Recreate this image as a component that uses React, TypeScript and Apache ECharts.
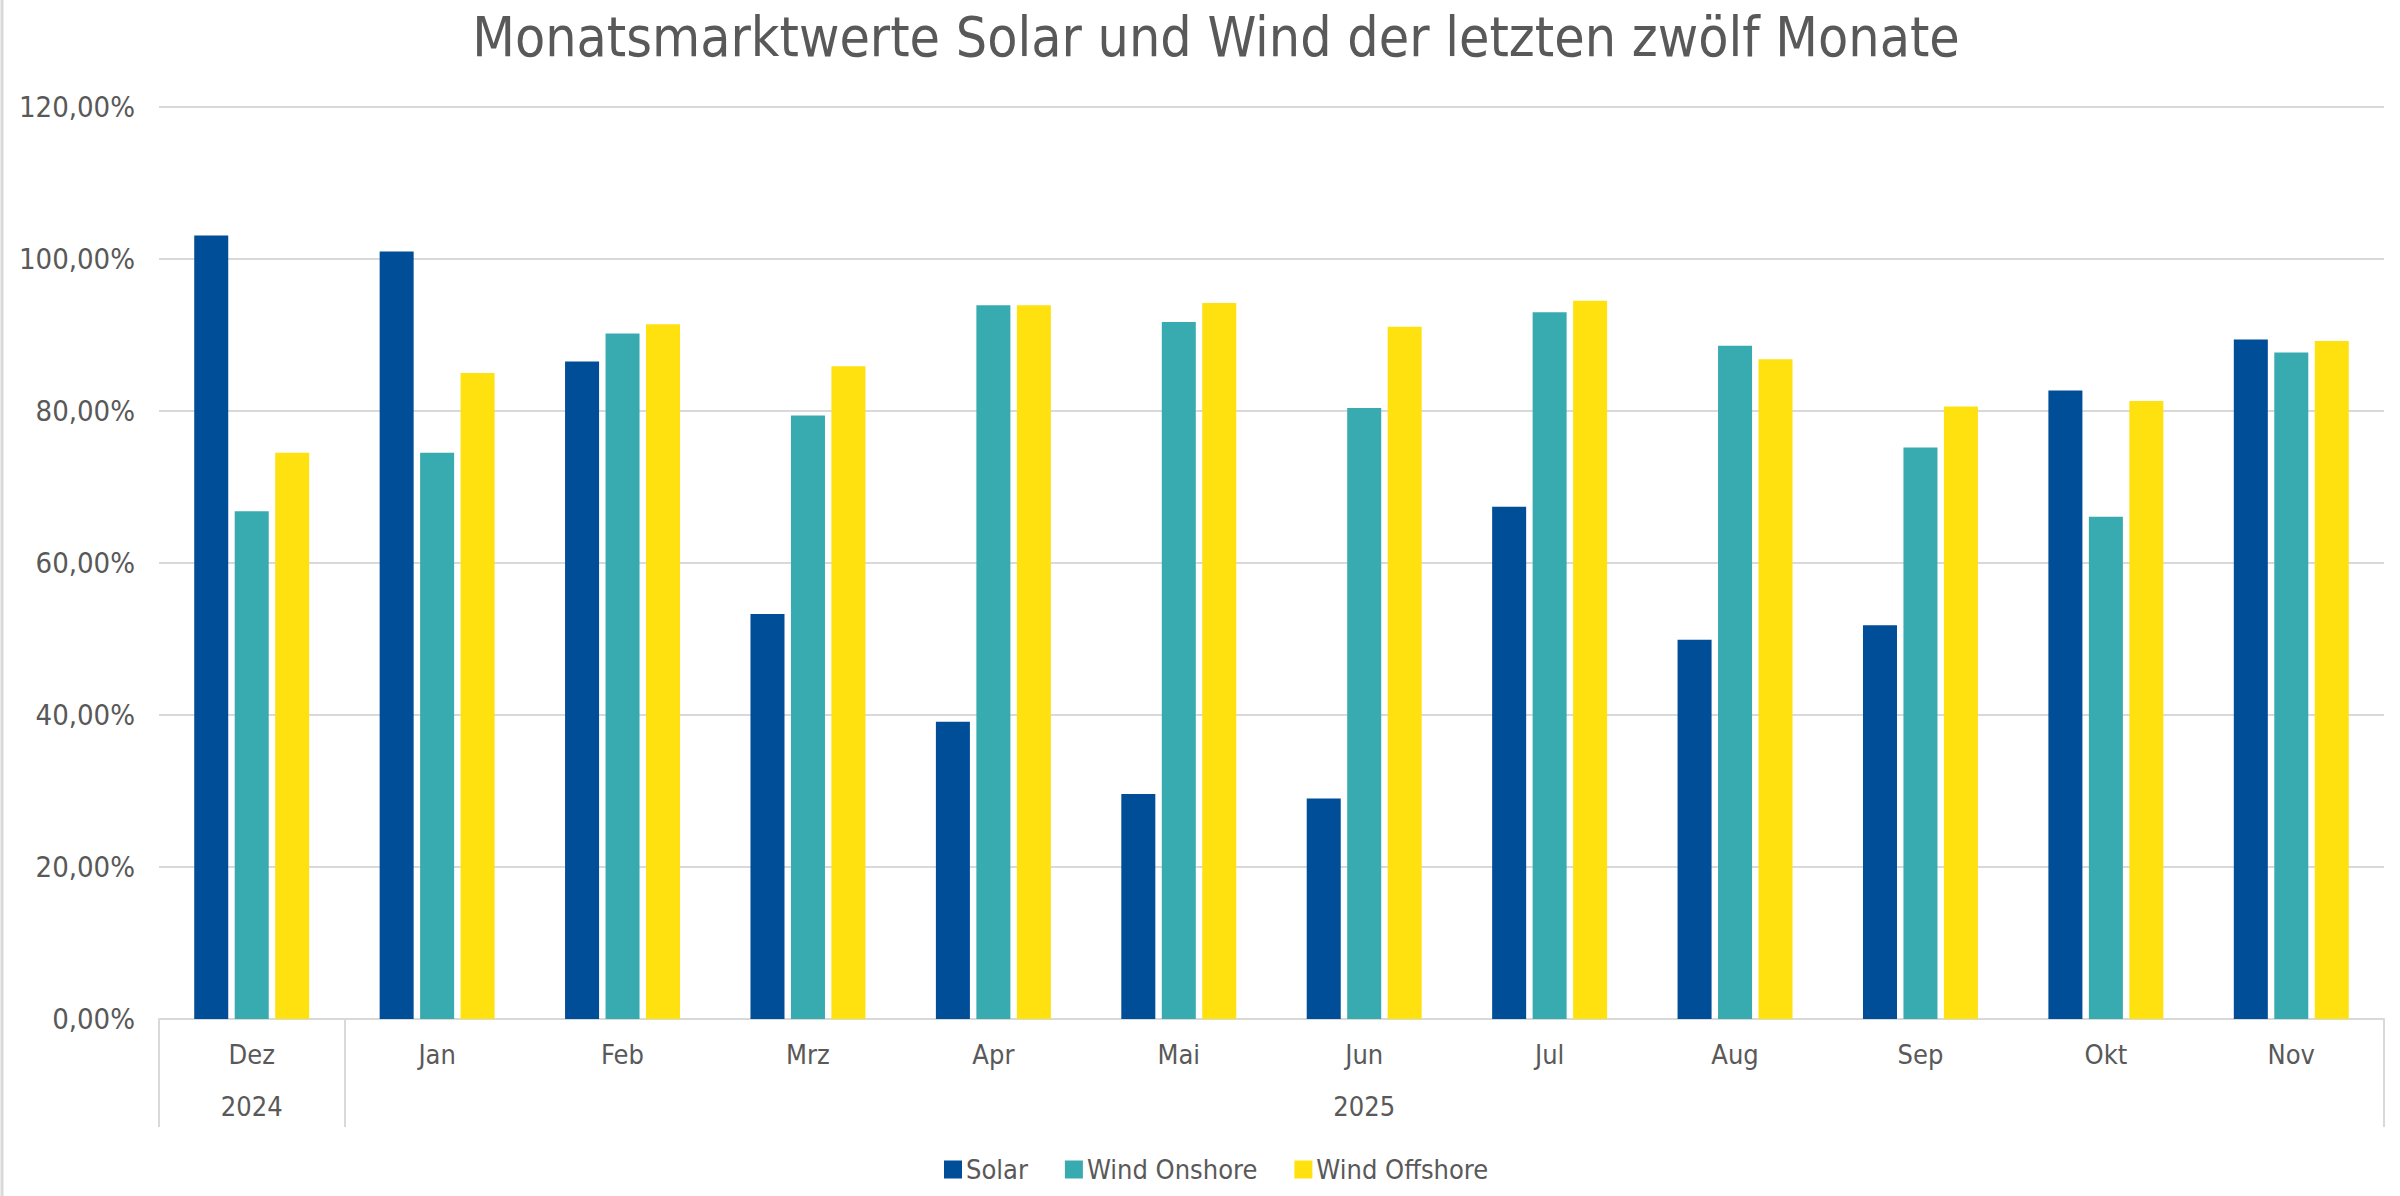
import React, { useEffect, useRef } from "react";
import * as echarts from "echarts";

const titleText = "Monatsmarktwerte Solar und Wind der letzten zwölf Monate";
const months = ["Dez", "Jan", "Feb", "Mrz", "Apr", "Mai", "Jun", "Jul", "Aug", "Sep", "Okt", "Nov"];
const years = ["2024", "2025"];
const monthsPerYear = [1, 11];
const seriesNames = ["Solar", "Wind Onshore", "Wind Offshore"];
const solar = [103.1, 101.0, 86.5, 53.3, 39.1, 29.6, 29.0, 67.4, 49.9, 51.8, 82.7, 89.4];
const windOnshore = [66.8, 74.5, 90.2, 79.4, 93.9, 91.7, 80.4, 93.0, 88.6, 75.2, 66.1, 87.7];
const windOffshore = [74.5, 85.0, 91.4, 85.9, 93.9, 94.2, 91.1, 94.5, 86.8, 80.6, 81.3, 89.2];
const yMin = 0;
const yMax = 120;
const yStep = 20;

const colors = ["#004d98", "#38abb0", "#ffe10f"];
const FONT = '"DejaVu Sans Condensed", "DejaVu Sans", sans-serif';
const TEXT = "#595959";
const LINE = "#d9d9d9";

export default function App() {
  const ref = useRef<HTMLDivElement>(null);
  useEffect(() => {
    if (!ref.current) return;
    const chart = echarts.init(ref.current, undefined, { renderer: "svg" });
    const bounds: number[] = [0];
    monthsPerYear.forEach((n) => bounds.push(bounds[bounds.length - 1] + n));
    const centers = years.map((_, i) => (bounds[i] + bounds[i + 1]) / 2);
    const fmtPct = (v: number) => v.toFixed(2).replace(".", ",") + "%";
    const dataArr = [solar, windOnshore, windOffshore];

    chart.setOption({
      animation: false,
      backgroundColor: "#ffffff",
      textStyle: { fontFamily: FONT },
      title: {
        text: titleText,
        left: 1211,
        top: 4,
        textAlign: "center",
        textStyle: { fontSize: 55, fontWeight: "normal", color: TEXT, fontFamily: FONT },
      },
      legend: {
        data: seriesNames,
        left: 939,
        top: 1151,
        icon: "rect",
        itemWidth: 18,
        itemHeight: 18,
        itemGap: 37,
        textStyle: { fontSize: 27, color: TEXT, fontFamily: FONT, padding: [0, 0, 0, -1] },
      },
      grid: { left: 159, right: 16, top: 107, bottom: 177, outerBoundsMode: "none" },
      xAxis: [
        {
          type: "category",
          data: months,
          position: "bottom",
          axisLine: { show: true, lineStyle: { color: LINE, width: 2 } },
          axisTick: { show: false },
          axisLabel: { color: TEXT, fontSize: 27, fontFamily: FONT, margin: 22, interval: 0 },
          splitLine: { show: false },
        },
        {
          type: "value",
          min: bounds[0],
          max: bounds[bounds.length - 1],
          position: "bottom",
          axisLine: { show: false },
          splitLine: { show: false },
          axisTick: {
            show: true,
            customValues: bounds,
            length: 108,
            lineStyle: { color: LINE, width: 2 },
          },
          axisLabel: {
            show: true,
            customValues: centers,
            margin: 74,
            color: TEXT,
            fontSize: 27,
            fontFamily: FONT,
            formatter: (v: number) => {
              const i = centers.findIndex((c) => Math.abs(c - v) < 1e-6);
              return i >= 0 ? years[i] : "";
            },
          },
        },
      ],
      yAxis: {
        type: "value",
        min: yMin,
        max: yMax,
        interval: yStep,
        axisLine: { show: false },
        axisTick: { show: false },
        splitLine: { show: true, lineStyle: { color: LINE, width: 2 } },
        axisLabel: { color: TEXT, fontSize: 29, fontFamily: FONT, margin: 24, formatter: fmtPct },
      },
      graphic: [
        {
          type: "line",
          shape: { x1: 2, y1: 0, x2: 2, y2: 1196 },
          style: { stroke: LINE, lineWidth: 3 },
          silent: true,
        },
      ],
      series: seriesNames.map((name, i) => ({
        name,
        type: "bar",
        xAxisIndex: 0,
        data: dataArr[i],
        barCategoryGap: "38%",
        barGap: "19%",
        itemStyle: { color: colors[i] },
      })),
    });
    return () => chart.dispose();
  }, []);
  return (
    <div
      ref={ref}
      style={{ position: "fixed", left: 0, top: 0, width: 2400, height: 1196, background: "#fff" }}
    />
  );
}
